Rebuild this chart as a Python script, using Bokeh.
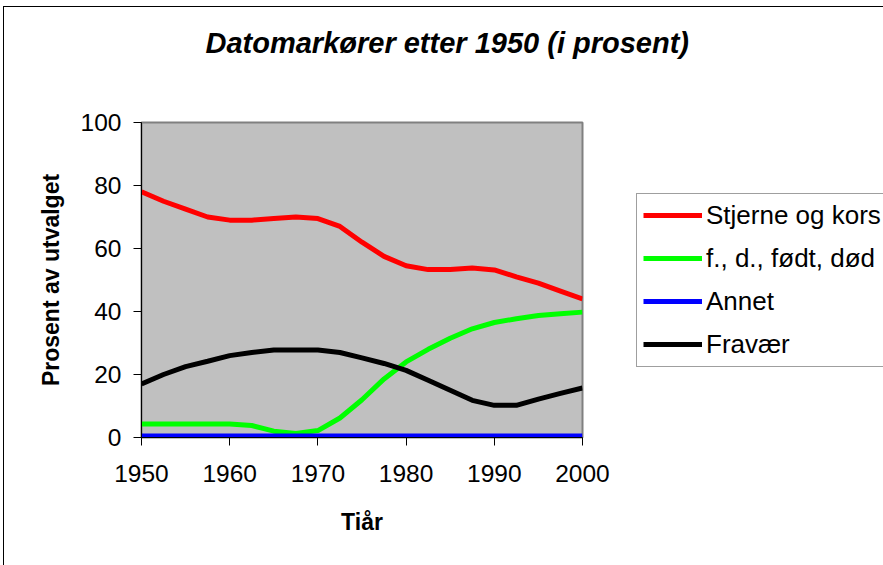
from bokeh.plotting import figure
from bokeh.models import Range1d, Legend, LegendItem, Title, FixedTicker
from bokeh.embed import file_html
from bokeh.resources import INLINE

years = [1950, 1952.5, 1955, 1957.5, 1960, 1962.5, 1965, 1967.5, 1970, 1972.5, 1975,
         1977.5, 1980, 1982.5, 1985, 1987.5, 1990, 1992.5, 1995, 1997.5, 2000]
stjerne = [78, 75, 72.5, 70, 69, 69, 69.5, 70, 69.5, 67, 62,
           57.5, 54.5, 53.3, 53.3, 53.8, 53.2, 51, 49, 46.5, 44]
fdfd = [4.3, 4.3, 4.3, 4.3, 4.3, 3.8, 2.0, 1.3, 2.2, 6.2, 12,
        18.6, 24, 28, 31.5, 34.5, 36.5, 37.7, 38.7, 39.3, 39.8]
annet = [0.5] * 21
fravaer = [17, 20, 22.5, 24.2, 26, 27, 27.8, 27.8, 27.8, 27, 25.3,
           23.5, 21.3, 18.2, 15, 11.8, 10.2, 10.2, 12.2, 14, 15.7]
series_names = ["Stjerne og kors", "f., d., født, død", "Annet", "Fravær"]
series_colors = ["#FF0000", "#00FF00", "#0000FF", "#000000"]
x_ticks = [1950, 1960, 1970, 1980, 1990, 2000]
y_ticks = [0, 20, 40, 60, 80, 100]

FONT = "Liberation Sans"

p = figure(frame_width=441, frame_height=315, output_backend="svg", toolbar_location=None,
           x_range=Range1d(1950, 2000), y_range=Range1d(0, 100),
           min_border_left=137, min_border_right=301, min_border_top=115, min_border_bottom=130)
p.styles = {"border-left": "1px solid #000", "border-top": "1px solid #000",
            "margin-left": "3px", "margin-top": "6px"}
p.background_fill_color = "#C0C0C0"
p.border_fill_color = "white"
p.outline_line_color = "#808080"
p.outline_line_width = 2
p.xgrid.visible = False
p.ygrid.visible = False

renderers = []
for ys, c in zip([stjerne, fdfd, annet, fravaer], series_colors):
    r = p.line(years, ys, line_color=c, line_width=5)
    renderers.append(r)

for ax in (p.xaxis[0], p.yaxis[0]):
    ax.axis_line_color = "black"
    ax.major_tick_line_color = "black"
    ax.major_tick_in = 0
    ax.major_tick_out = 8
    ax.minor_tick_line_color = None
    ax.major_label_text_font = FONT
    ax.major_label_text_font_size = "24.5px"
    ax.major_label_text_color = "black"
    ax.axis_label_text_font = FONT
    ax.axis_label_text_font_style = "bold"
    ax.axis_label_text_font_size = "23px"
    ax.axis_label_text_color = "black"

p.xaxis.ticker = FixedTicker(ticks=x_ticks)
p.yaxis.ticker = FixedTicker(ticks=y_ticks)
p.xaxis.axis_label = "Tiår"
p.yaxis.axis_label = "Prosent av utvalget"
p.xaxis.major_label_standoff = 19
p.yaxis.major_label_standoff = 12
p.xaxis.axis_label_standoff = 24
p.yaxis.axis_label_standoff = 14

# spacer panel between frame and title
spacer = Title(text=" ", text_font=FONT, text_font_size="29px", standoff=30)
p.add_layout(spacer, "above")
title = Title(text="Datomarkører etter 1950 (i prosent)", align="left", offset=64,
              text_font=FONT, text_font_size="29px", text_font_style="bold italic",
              text_color="black", standoff=0)
p.add_layout(title, "above")

legend = Legend(items=[LegendItem(label=n, renderers=[r]) for n, r in zip(series_names, renderers)],
                location="left", label_text_font=FONT, label_text_font_size="26px",
                label_text_color="black", glyph_width=59, glyph_height=30, label_height=30,
                label_standoff=4, spacing=12, padding=6, margin=54,
                border_line_color="#404040", border_line_width=1,
                background_fill_color="white", background_fill_alpha=1)
p.add_layout(legend, "right")

html = file_html(p, INLINE)
html = html.replace("<body>", '<body style="overflow:hidden">', 1)
open("out.html", "w").write(html)
